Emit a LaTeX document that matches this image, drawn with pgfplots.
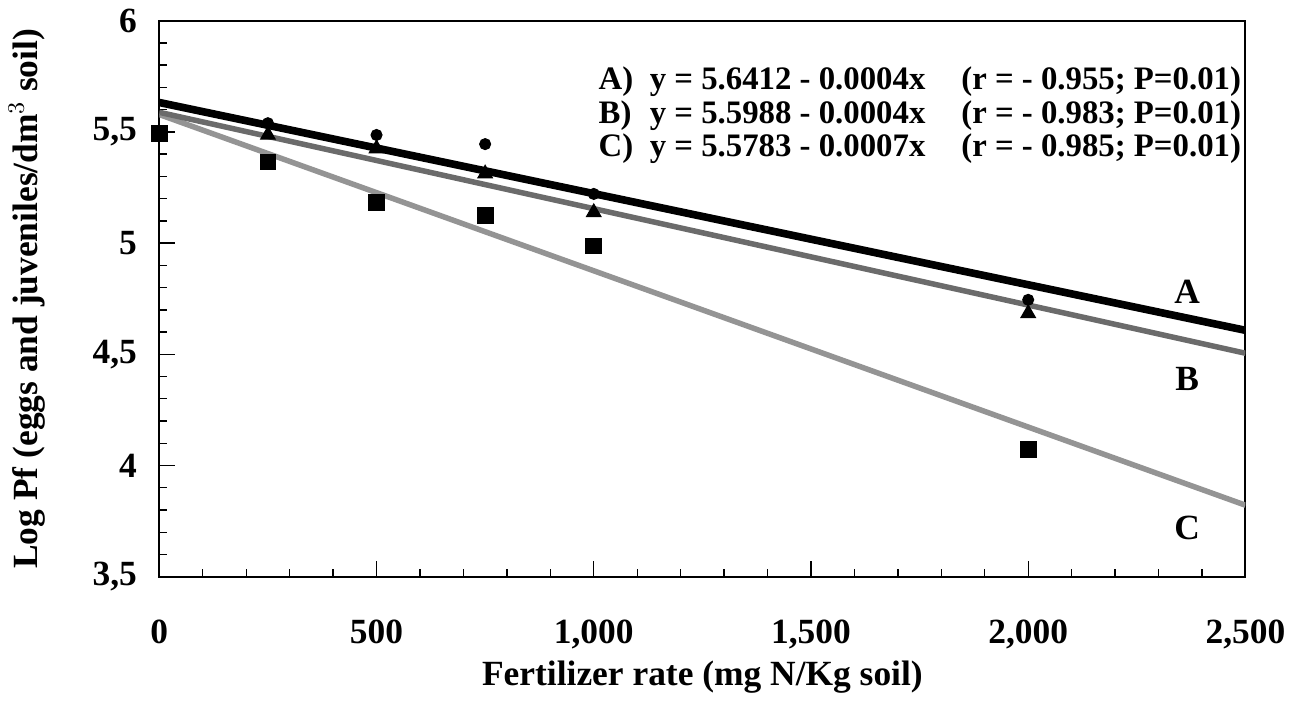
\documentclass[border=0pt]{standalone}
\usepackage{pgfplots}
\pgfplotsset{compat=1.18}
\usepackage{fontspec}
\setmainfont{Liberation Serif}

% regression lines, read at the axis ends
\pgfplotstableread{
x y
0 5.632
2500 4.608
}\lineA
\pgfplotstableread{
x y
0 5.588
2500 4.505
}\lineB
\pgfplotstableread{
x y
0 5.578
2500 3.822
}\lineC

\begin{document}
\begin{tikzpicture}
\begin{axis}[
    scale only axis,
    width=414pt, height=212pt,
    xmin=0, xmax=2500, ymin=3.5, ymax=6,
    xtick={0,500,...,2500},
    minor x tick num=4,
    ytick={3.5,4,...,6},
    minor y tick num=4,
    tick pos=left,
    tick align=inside,
    major tick length=6pt,
    minor tick length=3pt,
    axis line style={line width=0.8pt},
    tick style={black, line width=0.5pt},
    ticklabel style={font=\fontsize{13.5}{13.5}\selectfont\bfseries},
    /pgf/number format/assume math mode=true,
    x tick label style={/pgf/number format/1000 sep={,}},
    y tick label style={/pgf/number format/use comma},
    xticklabel shift=13pt,
    yticklabel shift=5pt,
    xlabel={Fertilizer rate (mg N/Kg soil)},
    ylabel={Log Pf (eggs and juveniles/dm$^{3}$ soil)},
    label style={font=\fontsize{13.5}{13.5}\selectfont\bfseries},
    xlabel style={at={(axis description cs:0.5,-0.195)}, anchor=base},
    ylabel style={at={(axis description cs:-0.112,0.5)}, anchor=base},
    clip=true,
]
\addplot[black!42, line width=2.1pt] table {\lineC};
\addplot[black!58, line width=2.1pt] table {\lineB};
\addplot[black, line width=2.9pt] table {\lineA};

% A: circles
\addplot[only marks, mark=*, mark size=2.1pt, black] coordinates {
(250,5.539) (500,5.486) (750,5.445) (1000,5.221) (2000,4.745)};
% B: triangles
\addplot[only marks, mark=triangle*, mark size=3.2pt, black] coordinates {
(250,5.486) (500,5.425) (750,5.312) (1000,5.138) (2000,4.684)};
% C: squares
\addplot[only marks, mark=square*, mark size=3pt, black] coordinates {
(0,5.493) (250,5.365) (500,5.183) (750,5.123) (1000,4.987) (2000,4.072)};

\node[font=\fontsize{13.5}{13.5}\selectfont\bfseries] at (axis cs:2366,4.78) {A};
\node[font=\fontsize{13.5}{13.5}\selectfont\bfseries] at (axis cs:2366,4.39) {B};
\node[font=\fontsize{13.5}{13.5}\selectfont\bfseries] at (axis cs:2366,3.72) {C};

% fitted equations
\node[anchor=base west, inner sep=0pt, font=\fontsize{12.5}{12.8}\selectfont\bfseries]
  at (axis cs:1010,5.69) {\begin{tabular}[t]{@{}l@{}}A)\\ B)\\ C)\end{tabular}};
\node[anchor=base west, inner sep=0pt, font=\fontsize{12.5}{12.8}\selectfont\bfseries]
  at (axis cs:1128,5.69) {\begin{tabular}[t]{@{}l@{}}y = 5.6412 - 0.0004x\\ y = 5.5988 - 0.0004x\\ y = 5.5783 - 0.0007x\end{tabular}};
\node[anchor=base west, inner sep=0pt, font=\fontsize{12.5}{12.8}\selectfont\bfseries]
  at (axis cs:1845,5.69) {\begin{tabular}[t]{@{}l@{}}(r = - 0.955; P=0.01)\\ (r = - 0.983; P=0.01)\\ (r = - 0.985; P=0.01)\end{tabular}};
\end{axis}
\end{tikzpicture}
\end{document}
